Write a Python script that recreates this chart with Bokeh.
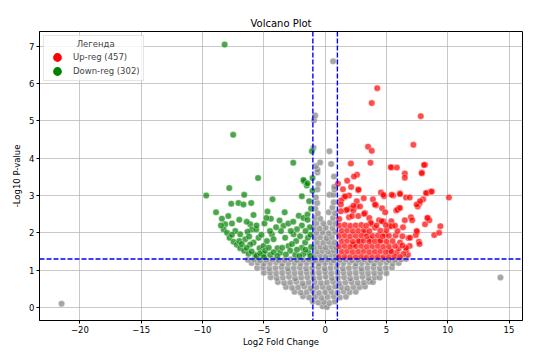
from bokeh.plotting import figure
from bokeh.models import Span, Legend, LegendItem, FixedTicker
from bokeh.embed import file_html
from bokeh.resources import INLINE

# ---------------- data ----------------
title_text = "Volcano Plot"
x_label = "Log2 Fold Change"
y_label = "-Log10 P-value"
legend_title = "Легенда"
up_count = 457
down_count = 302
fc_threshold = 1.0
p_threshold = 1.3
x_ticks = [-20, -15, -10, -5, 0, 5, 10, 15]
x_tick_labels = ["−20", "−15", "−10", "−5", "0", "5", "10", "15"]
y_ticks = [0, 1, 2, 3, 4, 5, 6, 7]

# not significant (grey)
ns_points = [
    (-21.5, 0.10), (14.3, 0.80),
    (-0.2, 0.03), (0.15, 0.01),
    (-1.0, 0.16), (-0.55, 0.13), (-0.1, 0.15), (0.35, 0.12), (0.8, 0.16),
    (-1.8, 0.30), (-1.3, 0.27), (-0.8, 0.29), (-0.3, 0.26), (0.2, 0.28), (0.7, 0.30), (1.2, 0.27), (1.7, 0.29),
    (-2.5, 0.42), (-2.0, 0.40), (-1.5, 0.41), (-1.0, 0.43), (-0.5, 0.39), (0.0, 0.41), (0.5, 0.42), (1.0, 0.40),
    (1.5, 0.43), (2.0, 0.41), (2.5, 0.42),
    (-3.2, 0.55), (-2.7, 0.53), (-2.2, 0.54), (-1.7, 0.56), (-1.2, 0.52), (-0.7, 0.54), (-0.2, 0.55), (0.3, 0.53),
    (0.8, 0.56), (1.3, 0.54), (1.8, 0.52), (2.3, 0.55), (2.8, 0.54), (3.25, 0.56),
    (-3.85, 0.68), (-3.35, 0.66), (-2.85, 0.67), (-2.35, 0.69), (-1.85, 0.65), (-1.35, 0.67), (-0.85, 0.68),
    (-0.35, 0.66), (0.15, 0.67), (0.65, 0.69), (1.15, 0.65), (1.65, 0.67), (2.15, 0.68), (2.65, 0.66),
    (3.15, 0.67), (3.6, 0.69), (3.9, 0.68),
    (-4.45, 0.81), (-3.95, 0.79), (-3.45, 0.80), (-2.95, 0.82), (-2.45, 0.78), (-1.95, 0.80), (-1.45, 0.81),
    (-0.95, 0.79), (-0.45, 0.80), (0.05, 0.82), (0.55, 0.79), (1.05, 0.80), (1.55, 0.81), (2.05, 0.78),
    (2.55, 0.80), (3.05, 0.82), (3.55, 0.79), (4.05, 0.81), (4.45, 0.80),
    (-5.0, 0.93), (-4.5, 0.94), (-4.0, 0.92), (-3.5, 0.93), (-3.0, 0.95), (-2.5, 0.92), (-2.0, 0.93),
    (-1.5, 0.94), (-1.0, 0.92), (-0.5, 0.93), (0.0, 0.95), (0.5, 0.92), (1.0, 0.93), (1.5, 0.94),
    (2.0, 0.92), (2.5, 0.93), (3.0, 0.95), (3.5, 0.92), (4.0, 0.93), (4.5, 0.94), (5.0, 0.92),
    (-5.55, 1.06), (-5.05, 1.07), (-4.55, 1.05), (-4.05, 1.06), (-3.55, 1.08), (-3.05, 1.05), (-2.55, 1.06),
    (-2.05, 1.07), (-1.55, 1.05), (-1.05, 1.06), (-0.55, 1.08), (-0.05, 1.05), (0.45, 1.06), (0.95, 1.07),
    (1.45, 1.05), (1.95, 1.06), (2.45, 1.08), (2.95, 1.05), (3.45, 1.06), (3.95, 1.07), (4.45, 1.05),
    (4.95, 1.06), (5.45, 1.07),
    (-6.0, 1.19), (-5.5, 1.20), (-5.0, 1.18), (-4.5, 1.19), (-4.0, 1.21), (-3.5, 1.18), (-3.0, 1.19),
    (-2.5, 1.20), (-2.0, 1.18), (-1.5, 1.19), (-1.0, 1.21), (-0.5, 1.18), (0.0, 1.19), (0.5, 1.20),
    (1.0, 1.18), (1.5, 1.19), (2.0, 1.21), (2.5, 1.18), (3.0, 1.19), (3.5, 1.20), (4.0, 1.18),
    (4.5, 1.19), (5.0, 1.21), (5.5, 1.18), (6.0, 1.19),
    (-6.3, 1.28), (-5.8, 1.29), (-5.3, 1.27), (-4.8, 1.28), (-4.3, 1.29), (-3.8, 1.27), (-3.3, 1.28),
    (-2.8, 1.29), (-2.3, 1.27), (-1.8, 1.28), (-1.3, 1.29), (-0.8, 1.27), (-0.3, 1.28), (0.2, 1.29),
    (0.7, 1.27), (1.2, 1.28), (1.7, 1.29), (2.2, 1.27), (2.7, 1.28), (3.2, 1.29), (3.7, 1.27),
    (4.2, 1.28), (4.7, 1.29), (5.2, 1.27), (5.7, 1.28), (6.2, 1.29), (6.6, 1.30),
    (-0.85, 1.38), (-0.4, 1.40), (0.05, 1.37), (0.5, 1.41), (0.88, 1.39),
    (-0.65, 1.50), (-0.2, 1.52), (0.25, 1.50), (0.7, 1.53),
    (-0.88, 1.62), (-0.4, 1.63), (0.05, 1.61), (0.5, 1.64), (0.9, 1.62),
    (-0.65, 1.75), (-0.15, 1.74), (0.3, 1.76), (0.75, 1.75),
    (-0.85, 1.87), (-0.4, 1.88), (0.1, 1.86), (0.55, 1.89),
    (-0.7, 2.00), (-0.2, 2.01), (0.3, 1.99), (0.8, 2.02),
    (-0.9, 2.13), (-0.45, 2.12), (0.05, 2.14), (0.6, 2.13),
    (-0.7, 2.26), (-0.15, 2.25), (0.4, 2.27), (0.85, 2.25),
    (-0.85, 2.40), (-0.4, 2.38), (0.65, 2.40),
    (-0.6, 2.52), (0.3, 2.55), (0.8, 2.53),
    (-0.8, 2.65), (0.6, 2.68), (-0.65, 2.80), (0.7, 2.82),
    (-0.75, 2.95), (0.35, 3.02), (0.68, 3.02),
    (-0.55, 3.31), (-0.63, 3.16), (0.76, 3.16), (0.75, 3.24), (0.72, 3.51),
    (-0.63, 3.62), (-0.63, 3.70), (-0.76, 3.79), (-0.41, 3.89), (0.49, 3.85),
    (0.35, 4.19), (-0.95, 4.28), (-0.90, 5.02), (-0.81, 5.15), (0.65, 6.60),
]

# down-regulated (green)
down_points = [
    (-8.2, 7.05), (-7.5, 4.63), (-9.7, 3.00), (-2.6, 3.88), (-5.47, 3.47), (-1.08, 4.19), (-1.71, 3.38),
    (-1.5, 3.27), (-1.03, 3.47), (-1.03, 3.13), (-1.9, 2.98), (-7.82, 3.20), (-6.6, 3.02), (-7.66, 2.78),
    (-7.07, 2.80), (-6.66, 2.76), (-6.03, 2.80), (-4.29, 2.90), (-1.77, 3.42), (-1.44, 3.33), (-8.9, 2.55),
    (-8.42, 2.38), (-5.84, 2.48), (-4.7, 2.57), (-4.43, 2.38), (-4.95, 2.25), (-3.72, 2.33), (-3.4, 2.19),
    (-2.15, 2.46), (-1.77, 2.40), (-1.44, 2.49), (-1.44, 2.35), (-8.15, 2.23), (-7.6, 2.25), (-6.11, 2.23),
    (-5.98, 2.09), (-5.62, 2.09), (-6.33, 2.03), (-8.28, 2.09), (-8.0, 2.00), (-7.8, 1.87), (-7.47, 1.76),
    (-7.2, 1.68), (-6.93, 1.59), (-6.6, 1.52), (-6.25, 1.44), (-5.84, 1.74), (-5.35, 1.59), (-5.03, 1.65),
    (-4.75, 1.78), (-4.34, 1.96), (-4.21, 1.83), (-3.89, 1.59), (-3.26, 1.87), (-2.99, 1.65), (-2.85, 1.52),
    (-2.58, 1.96), (-2.36, 1.78), (-2.04, 1.91), (-1.9, 1.60), (-1.63, 1.74), (-1.41, 1.87), (-1.36, 1.47),
    (-1.77, 1.43), (-3.67, 1.47), (-5.03, 1.43), (-5.7, 1.41), (-4.48, 1.41), (-2.44, 1.41), (-5.43, 1.87),
    (-6.93, 1.96), (-7.33, 2.05), (-6.52, 1.83), (-6.11, 1.69),
    (-7.6, 1.95), (-7.0, 1.78), (-6.8, 1.70), (-6.4, 1.60), (-6.0, 1.50), (-5.6, 1.38), (-5.3, 1.45),
    (-4.9, 1.52), (-4.6, 1.60), (-4.2, 1.48), (-3.9, 1.38), (-3.5, 1.60), (-3.2, 1.42), (-2.7, 1.70),
    (-2.3, 1.55), (-2.1, 1.38), (-1.6, 1.55), (-1.2, 1.38), (-1.15, 1.62), (-1.2, 1.95), (-1.25, 2.15),
    (-1.6, 2.05), (-1.9, 2.20), (-2.3, 2.10), (-2.8, 2.05), (-3.0, 2.25), (-3.6, 2.05), (-4.0, 2.15),
    (-4.5, 2.05), (-5.2, 1.95), (-5.6, 2.20), (-6.4, 2.30), (-7.0, 2.35), (-7.9, 2.45), (-6.2, 1.90),
    (-4.8, 2.40), (-3.3, 2.55), (-2.6, 2.30), (-1.15, 2.65), (-1.3, 2.85), (-8.5, 2.20), (-5.0, 1.35),
]

# up-regulated (red)
up_points = [
    (4.25, 5.88), (3.8, 5.48), (7.8, 5.13), (3.5, 4.31), (3.8, 4.20), (7.2, 4.36), (3.7, 3.88), (2.1, 3.86),
    (5.45, 3.75), (5.85, 3.75), (8.15, 3.83), (7.9, 3.62), (6.5, 3.59), (6.5, 3.48), (2.6, 3.56), (2.35, 3.51),
    (1.8, 3.40), (1.05, 3.32), (1.45, 3.17), (2.7, 3.14), (4.55, 3.08), (4.8, 2.98), (5.55, 3.00), (6.1, 3.06),
    (6.6, 2.95), (6.9, 2.95), (8.3, 3.06), (8.6, 3.10), (10.1, 2.95), (8.0, 2.90), (7.7, 2.79), (7.55, 2.71),
    (3.9, 2.90), (3.15, 2.93), (1.95, 3.00), (1.55, 2.95), (1.3, 2.87), (4.65, 2.66), (4.15, 2.74), (6.0, 2.66),
    (5.8, 2.60), (4.9, 2.55), (2.55, 2.71), (2.1, 2.66), (1.7, 2.60), (2.3, 2.60), (1.15, 2.37), (1.95, 2.42),
    (2.2, 2.45), (2.7, 2.45), (3.25, 2.53), (3.6, 2.40), (3.8, 2.23), (4.4, 2.34), (4.75, 2.31), (5.4, 2.31),
    (5.45, 2.18), (7.0, 2.42), (7.1, 2.34), (6.5, 2.34), (6.35, 2.15), (8.15, 2.23), (8.4, 2.40), (8.5, 2.34),
    (9.4, 2.18), (8.9, 1.94), (9.3, 2.00), (7.5, 2.02), (7.4, 1.94), (7.65, 1.76), (7.7, 1.70), (6.8, 1.86),
    (6.9, 1.65), (6.75, 1.41), (6.6, 1.54),
    (2.12, 3.23), (2.72, 3.16), (1.63, 2.98), (2.58, 2.85), (2.85, 2.71), (2.31, 2.73), (1.77, 2.62),
    (1.28, 2.76), (1.28, 2.58), (3.18, 2.51), (3.72, 2.27), (4.07, 2.14), (4.62, 2.31), (5.3, 2.18),
    (5.89, 2.62), (6.11, 2.67), (4.75, 3.02), (4.07, 2.76), (5.43, 3.02), (6.11, 3.04), (7.47, 2.76),
    (7.74, 2.85), (8.23, 3.07), (8.7, 3.11), (8.07, 3.82), (7.88, 3.60), (5.35, 3.76), (8.34, 2.40),
    (7.47, 2.05), (6.93, 1.87), (6.11, 1.74), (6.6, 1.60), (5.3, 1.52), (5.84, 1.47), (6.38, 1.43),
    (4.48, 1.78), (4.89, 1.96), (3.67, 1.83), (3.26, 2.00), (2.85, 1.78), (2.31, 1.69),
    (1.15, 1.36), (1.6, 1.37), (2.05, 1.35), (2.5, 1.36), (2.95, 1.37), (3.4, 1.35), (3.85, 1.36),
    (4.3, 1.37), (4.75, 1.35), (5.2, 1.36), (5.65, 1.37), (6.1, 1.35),
    (1.35, 1.50), (1.8, 1.51), (2.25, 1.49), (2.7, 1.50), (3.15, 1.51), (3.6, 1.49), (4.05, 1.50),
    (4.5, 1.51), (4.95, 1.49), (5.4, 1.50), (6.0, 1.58),
    (1.15, 1.64), (1.6, 1.65), (2.05, 1.63), (2.5, 1.64), (2.95, 1.65), (3.4, 1.63), (3.85, 1.64),
    (4.3, 1.65), (4.75, 1.63), (5.2, 1.64), (5.7, 1.65), (6.3, 1.66),
    (1.35, 1.78), (1.8, 1.79), (2.25, 1.77), (2.7, 1.78), (3.15, 1.79), (3.6, 1.77), (4.05, 1.78),
    (4.5, 1.79), (5.0, 1.77), (5.5, 1.78),
    (1.15, 1.92), (1.6, 1.93), (2.05, 1.91), (2.5, 1.92), (2.95, 1.93), (3.4, 1.91), (3.85, 1.92),
    (4.3, 1.93), (4.7, 1.91), (5.2, 1.92), (5.75, 1.93), (6.3, 1.91),
    (1.35, 2.06), (1.8, 2.07), (2.25, 2.05), (2.7, 2.06), (3.15, 2.07), (3.6, 2.05), (4.5, 2.06),
    (5.0, 2.07), (5.9, 2.05),
    (1.15, 2.20), (1.6, 2.21), (2.05, 2.19), (2.5, 2.20), (2.95, 2.21), (3.35, 2.19), (4.2, 2.20),
    (4.95, 2.21), (5.7, 2.19),
]

# ---------------- figure ----------------
FONT = "DejaVu Sans"

p = figure(frame_width=483, frame_height=289,
           x_range=(-23.3, 16.1), y_range=(-0.35, 7.4),
           output_backend="svg", toolbar_location=None,
           min_border_left=39, min_border_right=25, min_border_top=31, min_border_bottom=42,
           background_fill_color="white", border_fill_color="white")

p.title.text = title_text
p.title.align = "center"
p.title.text_font = FONT
p.title.text_font_size = "10px"
p.title.text_font_style = "normal"
p.title.text_color = "black"
p.title.standoff = 6

for ax in (p.xaxis[0], p.yaxis[0]):
    ax.axis_label_text_font = FONT
    ax.axis_label_text_font_size = "8.5px"
    ax.axis_label_text_font_style = "normal"
    ax.axis_label_text_color = "black"
    ax.major_label_text_font = FONT
    ax.major_label_text_font_size = "8.5px"
    ax.major_label_text_color = "black"
    ax.major_tick_in = 0
    ax.major_tick_out = 3
    ax.major_tick_line_color = "black"
    ax.minor_tick_line_color = None
    ax.axis_line_color = "black"
    ax.major_label_standoff = 2
    ax.axis_label_standoff = 4

p.xaxis.axis_label_standoff = 1
p.xaxis.axis_label = x_label
p.yaxis.axis_label = y_label
p.xaxis.ticker = FixedTicker(ticks=x_ticks)
p.yaxis.ticker = FixedTicker(ticks=y_ticks)
p.xaxis.major_label_overrides = {t: l for t, l in zip(x_ticks, x_tick_labels)}

p.grid.grid_line_color = "#b0b0b0"
p.grid.grid_line_alpha = 0.7
p.grid.grid_line_width = 1
p.outline_line_color = "black"
p.outline_line_width = 1

def xs(pts):
    return [a for a, b in pts]

def ys(pts):
    return [b for a, b in pts]

common = dict(size=6.5, fill_alpha=0.7, line_color="white", line_width=0.5, line_alpha=0.8)
p.scatter(xs(ns_points), ys(ns_points), fill_color="gray", **common)
p.scatter(xs(up_points), ys(up_points), fill_color="red", **common)
p.scatter(xs(down_points), ys(down_points), fill_color="green", **common)

# threshold lines
for loc in (-fc_threshold, fc_threshold):
    p.add_layout(Span(location=loc, dimension="height", line_color="blue",
                      line_dash="5 2", line_width=1.4))
p.add_layout(Span(location=p_threshold, dimension="width", line_color="blue",
                  line_dash="5 2", line_width=1.4))

# legend (solid markers, renderers hold no visible point)
nan = float("nan")
leg_up = p.scatter(x=[nan], y=[nan], fill_color="red", line_color="red", line_width=4)
leg_down = p.scatter(x=[nan], y=[nan], fill_color="green", line_color="green", line_width=4)
legend = Legend(items=[LegendItem(label=f"Up-reg ({up_count})", renderers=[leg_up]),
                       LegendItem(label=f"Down-reg ({down_count})", renderers=[leg_down])],
                location="top_left",
                title="\u00a0" * 11 + legend_title)
legend.title_text_font = FONT
legend.title_text_font_size = "8.5px"
legend.title_text_font_style = "normal"
legend.title_standoff = 2
legend.label_text_font = FONT
legend.label_text_font_size = "8.5px"
legend.glyph_width = 20
legend.glyph_height = 12
legend.label_height = 12
legend.spacing = 2
legend.padding = 3
legend.margin = 4
legend.label_standoff = 6
legend.border_line_color = "#cccccc"
legend.background_fill_alpha = 0.8
p.add_layout(legend)

open("out.html", "w").write(file_html(p, INLINE))
